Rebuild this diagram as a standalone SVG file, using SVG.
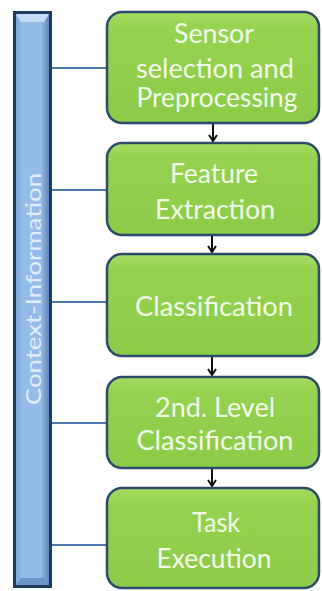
<svg xmlns="http://www.w3.org/2000/svg" width="322" height="591" viewBox="0 0 322 591">
  <defs>
    <linearGradient id="greenFill" x1="0" y1="0" x2="0" y2="1">
      <stop offset="0" stop-color="#a6dc62"/>
      <stop offset="0.15" stop-color="#94d24f"/>
      <stop offset="1" stop-color="#8ccb48"/>
    </linearGradient>
    <linearGradient id="barFill" x1="0" y1="0" x2="1" y2="0">
      <stop offset="0" stop-color="#7ea6d8"/>
      <stop offset="0.2" stop-color="#95bbe8"/>
      <stop offset="0.75" stop-color="#95bbe8"/>
      <stop offset="1" stop-color="#5f86b8"/>
    </linearGradient>
    <marker id="arrowHead" viewBox="0 0 10 10" refX="9" refY="5" markerWidth="10" markerHeight="10" markerUnits="userSpaceOnUse" orient="auto">
      <path d="M3,1 L9,5 L3,9" fill="none" stroke="#111" stroke-width="2"/>
    </marker>
  </defs>
  <style>
    .box { fill: url(#greenFill); stroke: #2e4a6a; stroke-width: 2.5; }
    .label { font-family: Lato, "Open Sans", sans-serif; font-size: 26px; fill: #f4fbea; text-anchor: middle; }
    .link { stroke: #4a78b0; stroke-width: 1.8; fill: none; }
    .flow { stroke: #111; stroke-width: 2; fill: none; }
  </style>

  <!-- context bar -->
  <g id="context">
    <rect x="13" y="11" width="39" height="577" fill="#1f3a60"/>
    <rect x="16" y="14" width="33" height="571" fill="url(#barFill)"/>
    <polygon points="16,14 49,14 44,22 21,22" fill="#c4dbf5"/>
    <polygon points="16,585 49,585 44,578 21,578" fill="#6d93c4"/>
    <text transform="translate(41,289) rotate(-90)" font-family="Lato, 'Open Sans', sans-serif" font-size="22" fill="#e2eefb" text-anchor="middle" textLength="232" lengthAdjust="spacingAndGlyphs">Context-Information</text>
  </g>

  <!-- links from context bar and flow arrows -->
  <g id="connectors">
    <line class="link" x1="52" y1="68" x2="107" y2="68"/>
    <line class="link" x1="52" y1="190" x2="107" y2="190"/>
    <line class="link" x1="52" y1="302" x2="107" y2="302"/>
    <line class="link" x1="52" y1="423" x2="107" y2="423"/>
    <line class="link" x1="52" y1="545" x2="107" y2="545"/>
    <line class="flow" x1="213" y1="124" x2="213" y2="141" marker-end="url(#arrowHead)"/>
    <line class="flow" x1="212" y1="236" x2="212" y2="252" marker-end="url(#arrowHead)"/>
    <line class="flow" x1="212" y1="357" x2="212" y2="375" marker-end="url(#arrowHead)"/>
    <line class="flow" x1="212" y1="469" x2="212" y2="486" marker-end="url(#arrowHead)"/>
  </g>

  <g id="sensor">
    <rect class="box" x="107" y="12" width="212" height="111" rx="15"/>
    <text class="label" x="214" y="43" textLength="80" lengthAdjust="spacingAndGlyphs">Sensor</text>
    <text class="label" x="215" y="78" textLength="158" lengthAdjust="spacingAndGlyphs">selection and</text>
    <text class="label" x="217" y="107" textLength="161" lengthAdjust="spacingAndGlyphs">Preprocessing</text>
  </g>

  <g id="feature">
    <rect class="box" x="107" y="143" width="212" height="92" rx="15"/>
    <text class="label" x="214" y="183" textLength="88" lengthAdjust="spacingAndGlyphs">Feature</text>
    <text class="label" x="215" y="219" textLength="120" lengthAdjust="spacingAndGlyphs">Extraction</text>
  </g>

  <g id="classification">
    <rect class="box" x="107" y="254" width="212" height="102" rx="15"/>
    <text class="label" x="214" y="316" textLength="158" lengthAdjust="spacingAndGlyphs">Classification</text>
  </g>

  <g id="level2">
    <rect class="box" x="107" y="377" width="212" height="91" rx="15"/>
    <text class="label" x="215" y="417" textLength="120" lengthAdjust="spacingAndGlyphs">2nd. Level</text>
    <text class="label" x="215" y="450" textLength="157" lengthAdjust="spacingAndGlyphs">Classification</text>
  </g>

  <g id="task">
    <rect class="box" x="107" y="488" width="212" height="100" rx="15"/>
    <text class="label" x="216" y="532" textLength="48" lengthAdjust="spacingAndGlyphs">Task</text>
    <text class="label" x="214" y="568" textLength="115" lengthAdjust="spacingAndGlyphs">Execution</text>
  </g>
</svg>
